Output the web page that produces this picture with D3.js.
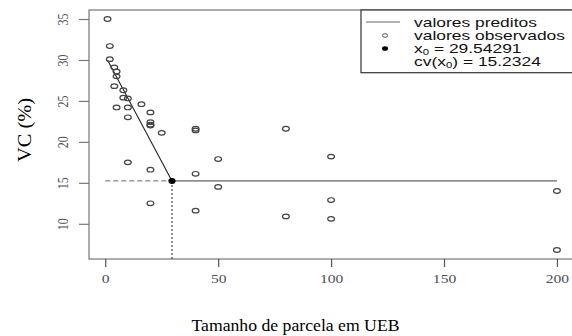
<!DOCTYPE html>
<html>
<head>
<meta charset="utf-8">
<script src="https://cdn.jsdelivr.net/npm/d3@7"></script>
<style>
  body { margin: 0; background: #fff; }
  svg { display: block; }
</style>
</head>
<body>
<div id="grafico"></div>
<script>
// dados observados (tamanho de parcela x CV)
var tamanhoParcela = [1, 2, 2, 4, 5, 5, 4, 8, 8, 10, 5, 10, 16, 10, 20, 20, 20, 20, 25, 10, 20, 20,
                      40, 40, 40, 40, 50, 50, 80, 80, 100, 100, 100, 200, 200];
var vcObservado = [35.0, 31.7, 30.1, 29.1, 28.6, 28.0, 26.8, 26.3, 25.4, 25.3, 24.2, 24.2, 24.6, 23.0, 23.6, 22.4, 22.1, 22.0, 21.1, 17.5, 16.6, 12.5,
                   21.6, 21.4, 16.1, 11.6, 17.9, 14.5, 21.6, 10.9, 18.2, 12.9, 10.6, 14.0, 6.8];

// modelo linear com platô
var x0 = 29.54291;
var cvX0 = 15.2324;
var predX = [1, x0, 200];
var predY = [30.0, cvX0, cvX0];

var xTicks = [0, 50, 100, 150, 200];
var yTicks = [10, 15, 20, 25, 30, 35];

var largura = 572, altura = 336;
var caixa = {esq: 89, topo: 10, dir: 575, base: 259};

var svg = d3.select("#grafico").append("svg")
    .attr("width", largura)
    .attr("height", altura);

var x = d3.scaleLinear().domain([-7.2, 208]).range([caixa.esq, caixa.dir]);
var y = d3.scaleLinear().domain([5.7, 36.1]).range([caixa.base, caixa.topo]);

var esticar = 1.3; // o original está esticado na horizontal

// caixa do gráfico
svg.append("rect")
    .attr("x", caixa.esq).attr("y", caixa.topo)
    .attr("width", caixa.dir - caixa.esq).attr("height", caixa.base - caixa.topo)
    .attr("fill", "none").attr("stroke", "#8a8a8a").attr("stroke-width", 1.4);

// eixo x
var eixoX = svg.append("g").attr("transform", "translate(0," + caixa.base + ")")
    .call(d3.axisBottom(x).tickValues(xTicks).tickSize(8).tickPadding(6));
eixoX.select(".domain").remove();
eixoX.selectAll("line").attr("stroke", "#555").attr("stroke-width", 1.2);
eixoX.selectAll("text").remove();
eixoX.selectAll(".tick").append("text")
    .attr("transform", "translate(0,24) scale(" + esticar + ",1)")
    .attr("text-anchor", "middle")
    .attr("fill", "#4d4f5c")
    .style("font-family", "'Liberation Serif', serif")
    .style("font-size", "12px")
    .text(function(d) { return d; });

// eixo y
var eixoY = svg.append("g").attr("transform", "translate(" + caixa.esq + ",0)")
    .call(d3.axisLeft(y).tickValues(yTicks).tickSize(10));
eixoY.select(".domain").remove();
eixoY.selectAll("line").attr("stroke", "#777").attr("stroke-width", 1.2);
eixoY.selectAll("text").remove();
eixoY.selectAll(".tick").append("text")
    .attr("transform", "translate(-26,0) scale(" + esticar + ",1) rotate(-90)")
    .attr("text-anchor", "middle")
    .attr("dy", "0.35em")
    .attr("fill", "#4d4f5c")
    .style("font-family", "'Liberation Serif', serif")
    .style("font-size", "12px")
    .text(function(d) { return d; });

// linhas de referência no ponto de junção
svg.append("line")
    .attr("x1", x(0)).attr("x2", x(x0))
    .attr("y1", y(cvX0)).attr("y2", y(cvX0))
    .attr("stroke", "#888").attr("stroke-width", 1.3)
    .attr("stroke-dasharray", "5,3");
svg.append("line")
    .attr("x1", x(x0)).attr("x2", x(x0))
    .attr("y1", y(cvX0)).attr("y2", caixa.base)
    .attr("stroke", "#444").attr("stroke-width", 1.2)
    .attr("stroke-dasharray", "2,2");

// valores preditos
svg.append("line")
    .attr("x1", x(predX[0])).attr("y1", y(predY[0]))
    .attr("x2", x(predX[1])).attr("y2", y(predY[1]))
    .attr("stroke", "#222").attr("stroke-width", 1.1);
svg.append("line")
    .attr("x1", x(predX[1])).attr("y1", y(predY[1]))
    .attr("x2", x(predX[2])).attr("y2", y(predY[2]))
    .attr("stroke", "#8f8f8f").attr("stroke-width", 1.6);

// valores observados
svg.selectAll(".obs")
    .data(tamanhoParcela)
    .enter().append("ellipse")
    .attr("class", "obs")
    .attr("cx", function(d) { return x(d); })
    .attr("cy", function(d, i) { return y(vcObservado[i]); })
    .attr("rx", 3.4).attr("ry", 2.3)
    .attr("fill", "none")
    .attr("stroke", "#444").attr("stroke-width", 1.2);

// ponto x0
svg.append("ellipse")
    .attr("cx", x(x0)).attr("cy", y(cvX0))
    .attr("rx", 3.6).attr("ry", 3)
    .attr("fill", "#000");

// títulos
svg.append("text")
    .attr("x", 295.5).attr("y", 330.5)
    .attr("text-anchor", "middle")
    .attr("textLength", 208).attr("lengthAdjust", "spacingAndGlyphs")
    .style("font-family", "'Liberation Serif', serif")
    .style("font-size", "17px")
    .text("Tamanho de parcela em UEB");
svg.append("text")
    .attr("transform", "translate(31,130) rotate(-90)")
    .attr("text-anchor", "middle")
    .attr("textLength", 64).attr("lengthAdjust", "spacingAndGlyphs")
    .style("font-family", "'Liberation Serif', serif")
    .style("font-size", "19px")
    .text("VC (%)");

// legenda
var leg = svg.append("g");
leg.append("rect")
    .attr("x", 361).attr("y", 10)
    .attr("width", 220).attr("height", 62.7)
    .attr("fill", "#fff").attr("stroke", "#333").attr("stroke-width", 1.2);

var linhasLeg = [22, 35.5, 48.5, 61.7];
leg.append("line")
    .attr("x1", 366).attr("x2", 400)
    .attr("y1", linhasLeg[0]).attr("y2", linhasLeg[0])
    .attr("stroke", "#666").attr("stroke-width", 1.2);
leg.append("ellipse")
    .attr("cx", 385).attr("cy", linhasLeg[1])
    .attr("rx", 2.6).attr("ry", 1.8)
    .attr("fill", "none").attr("stroke", "#555");
leg.append("ellipse")
    .attr("cx", 385).attr("cy", linhasLeg[2])
    .attr("rx", 3).attr("ry", 2.3)
    .attr("fill", "#000");

function textoLegenda(yc, partes) {
    var t = leg.append("text")
        .attr("transform", "translate(414," + (yc + 4.5) + ") scale(1.34,1)")
        .attr("fill", "#111")
        .style("font-family", "'Liberation Sans', Arial, sans-serif")
        .style("font-size", "13px");
    partes.forEach(function(p) {
        var s = t.append("tspan").text(p.t);
        if (p.sub) s.attr("dy", 1.5).style("font-size", "8.5px");
        if (p.volta) s.attr("dy", -1.5);
    });
}
textoLegenda(linhasLeg[0], [{t: "valores preditos"}]);
textoLegenda(linhasLeg[1], [{t: "valores observados"}]);
textoLegenda(linhasLeg[2], [{t: "x"}, {t: "0", sub: true}, {t: " = " + x0, volta: true}]);
textoLegenda(linhasLeg[3], [{t: "cv(x"}, {t: "0", sub: true}, {t: ") = " + cvX0, volta: true}]);
</script>
</body>
</html>
